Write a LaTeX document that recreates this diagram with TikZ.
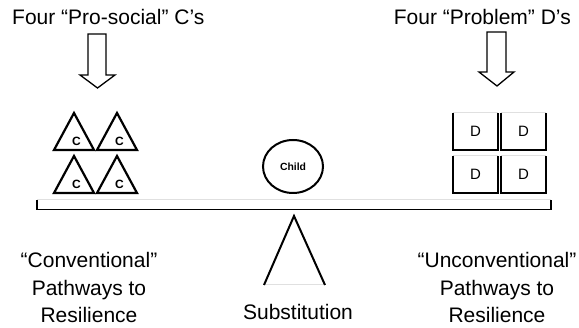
\documentclass[tikz,border=0pt]{standalone}
\usepackage{fontspec}
\setmainfont{Liberation Sans}
\usetikzlibrary{shapes.geometric}
\begin{document}
\begin{tikzpicture}[x=1pt,y=-1pt,
  lbl/.style={font=\fontsize{21}{27.5}\selectfont, align=center, inner sep=0pt},
  tri/.style={draw, line width=2.2pt, line join=miter},
  harrow/.style={draw, line width=1.3pt, line join=miter},
  clbl/.style={font=\fontsize{12}{12}\selectfont\bfseries, inner sep=0pt},
  dlbl/.style={font=\fontsize{15}{15}\selectfont, inner sep=0pt},
  blk/.style={line width=2pt},
  lite/.style={draw=black!12, line width=1pt}]
\useasboundingbox (0,0) rectangle (579,328);

% top titles
\node[lbl, anchor=base west] (pc) at (12,24.5) {Four “Pro-social” C’s};
\node[lbl, anchor=base east] (pd) at (571,24.5) {Four “Problem” D’s};

% hollow arrows
\draw[harrow] (88,34) -- (106,34) -- (106,75) -- (115,75) -- (97.5,88) -- (80,75) -- (88,75) -- cycle;
\draw[harrow] (487,32) -- (506,32) -- (506,72) -- (514,72) -- (497,86) -- (479,72) -- (487,72) -- cycle;

% triangles with C
\foreach \cx/\ay/\nm in {74/113/c1, 117/113/c2, 74/156/c3, 117/156/c4}{
  \draw[tri] (\cx,\ay) -- ({\cx+20},{\ay+37}) -- ({\cx-20},{\ay+37}) -- cycle;
  \node[clbl] (\nm) at ({\cx+2.5},{\ay+28}) {C};
}

% D boxes
\foreach \bx/\by/\nm in {453/113/d1, 501/113/d2, 453/156/d3, 501/156/d4}{
  \draw[lite] (\bx,\by) -- ({\bx+45},\by);
  \draw[blk] (\bx,\by) -- (\bx,{\by+37.5}) -- ({\bx+45},{\by+37.5}) -- ({\bx+45},\by);
  \node[dlbl] (\nm) at ({\bx+22.5},{\by+18.5}) {D};
}

% child
\node[draw, ellipse, line width=2pt, minimum width=60pt, minimum height=53pt, inner sep=0pt,
      font=\fontsize{10.4}{10.4}\selectfont\bfseries] (child) at (293,166.5) {Child};

% beam
\draw[lite] (37,200) -- (551,200);
\draw[line width=1.5pt] (37,209.5) -- (551,209.5);
\draw[line width=2.5pt] (37,200.5) -- (37,210.2);
\draw[line width=2.5pt] (551,200.5) -- (551,210.2);

% fulcrum
\coordinate (fa) at (294,216);
\coordinate (fl) at (264,285);
\coordinate (fr) at (325,285);
\draw[lite] (fl) -- (fr);
\draw[line width=2pt, line join=miter] (fl) -- (fa) -- (fr);

% bottom labels
\node[lbl, anchor=base] (sub) at (298,320) {Substitution};
\node[lbl, anchor=north] (conv) at (89,252.5) {“Conventional”\\Pathways to\\Resilience};
\node[lbl, anchor=north] (unconv) at (497,252.5) {“Unconventional”\\Pathways to\\Resilience};
\end{tikzpicture}
\end{document}
